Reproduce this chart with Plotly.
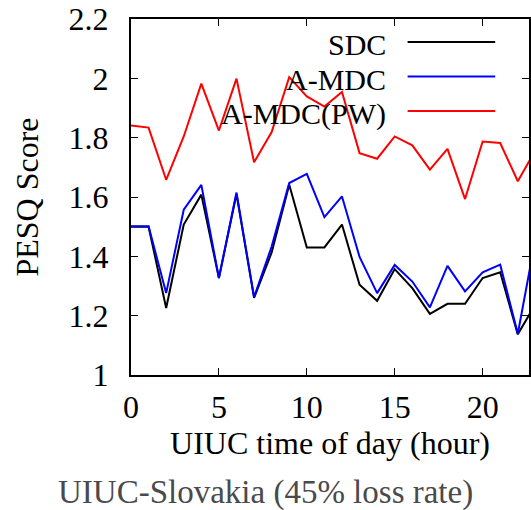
import plotly.graph_objects as go

hours = list(range(24))
sdc = [1.50, 1.50, 1.226, 1.507, 1.608, 1.327, 1.61, 1.26, 1.413, 1.641, 1.43, 1.43,
       1.507, 1.304, 1.25, 1.357, 1.293, 1.206, 1.24, 1.24, 1.327, 1.346, 1.137, 1.238]
amdc = [1.501, 1.501, 1.276, 1.557, 1.641, 1.327, 1.615, 1.263, 1.433, 1.647, 1.678, 1.532,
        1.602, 1.398, 1.276, 1.371, 1.315, 1.228, 1.368, 1.282, 1.346, 1.372, 1.139, 1.458]
amdc_pw = [1.841, 1.834, 1.658, 1.804, 1.982, 1.824, 1.999, 1.717, 1.819, 2.004, 1.939, 1.905,
           1.954, 1.748, 1.729, 1.804, 1.774, 1.692, 1.762, 1.593, 1.787, 1.782, 1.653, 1.758]
series_names = ["SDC", "A-MDC", "A-MDC(PW)"]
series_colors = ["#000000", "#0000ff", "#ff0000"]
y_ticks = [1, 1.2, 1.4, 1.6, 1.8, 2, 2.2]
y_ticktext = ["1", "1.2", "1.4", "1.6", "1.8", "2", "2.2"]
x_ticks = [0, 5, 10, 15, 20]

FONT = "Liberation Serif, Times New Roman, serif"
FS = 32
LFS = 30
W, H = 531, 510
L, R, T, B = 131, 0, 19, 135
pw, ph = W - L - R, H - T - B

fig = go.Figure()
for name, ys, col in zip(series_names, [sdc, amdc, amdc_pw], series_colors):
    fig.add_trace(go.Scatter(x=hours, y=ys, mode="lines", name=name,
                             line=dict(color=col, width=2), showlegend=False))

def px_x(p):
    return (p - L) / pw

def px_y(p):
    return (H - B - p) / ph

annotations = []
shapes = []
legend_rows = [43, 77.5, 112]
for name, col, yy in zip(series_names, series_colors, legend_rows):
    annotations.append(dict(text=name, xref="paper", yref="paper", x=px_x(389), y=px_y(yy + 2),
                            xanchor="right", yanchor="middle", showarrow=False,
                            font=dict(family=FONT, size=LFS, color="black")))
    shapes.append(dict(type="line", xref="paper", yref="paper", x0=px_x(409), x1=px_x(497),
                       y0=px_y(yy - 1), y1=px_y(yy - 1), line=dict(color=col, width=2)))

annotations.append(dict(text="UIUC-Slovakia (45% loss rate)", xref="paper", yref="paper",
                        x=px_x(266), y=px_y(492), xanchor="center", yanchor="middle",
                        showarrow=False, font=dict(family=FONT, size=33, color="#4a4a4a")))

fig.update_layout(
    width=W, height=H,
    margin=dict(l=L, r=R, t=T, b=B, pad=0),
    plot_bgcolor="white", paper_bgcolor="white",
    font=dict(family=FONT, size=FS, color="black"),
    annotations=annotations, shapes=shapes,
    xaxis=dict(range=[0, (W - L) / 17.67], tickvals=x_ticks, ticks="inside", ticklen=7,
               tickcolor="black", tickwidth=1, showline=True, linecolor="black", linewidth=2,
               mirror="ticks", showgrid=False, zeroline=False,
               tickfont=dict(family=FONT, size=FS), ticklabelstandoff=3,
               title=dict(text="UIUC time of day (hour)", font=dict(family=FONT, size=FS), standoff=1)),
    yaxis=dict(range=[1, 2.2], tickvals=y_ticks, ticktext=y_ticktext, ticks="inside", ticklen=7,
               tickcolor="black", tickwidth=1, showline=True, linecolor="black", linewidth=2,
               mirror="ticks", showgrid=False, zeroline=False,
               tickfont=dict(family=FONT, size=FS), ticklabelstandoff=14,
               title=dict(text="PESQ Score", font=dict(family=FONT, size=FS), standoff=20)),
)

fig.write_html("out.html")
